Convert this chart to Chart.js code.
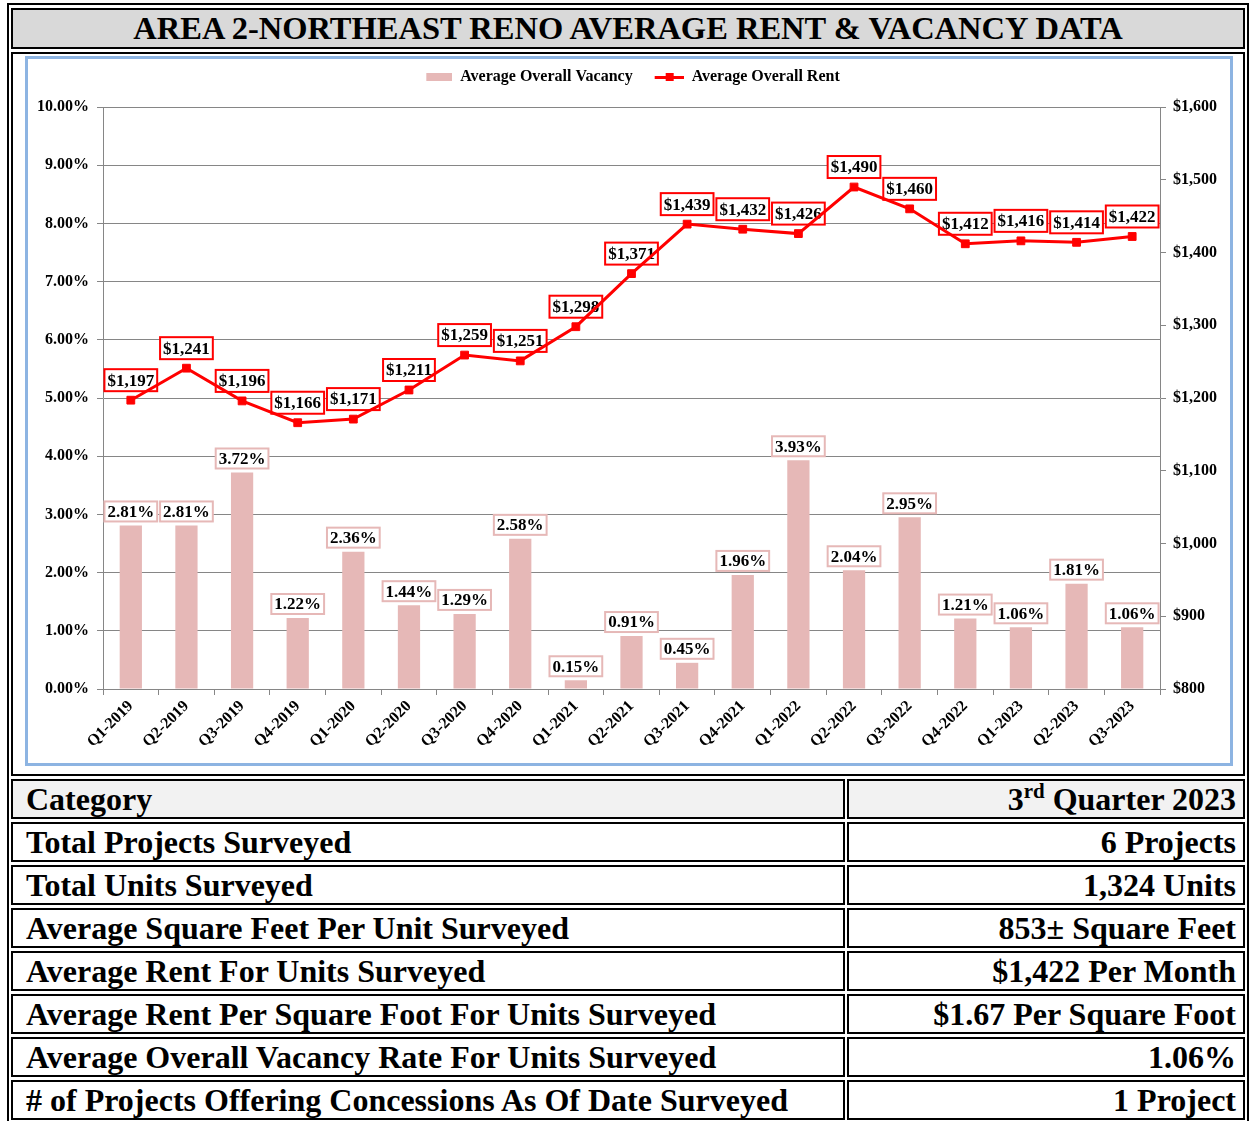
<!DOCTYPE html>
<html lang="en">

<head>
    <meta charset="UTF-8">
    <title>Area 2 - Northeast Reno Average Rent &amp; Vacancy Data</title>
    <script src="https://cdn.jsdelivr.net/npm/chart.js"></script>
    <style>
        body {
            margin: 0;
            background: #fff;
            font-family: "Liberation Serif", "Times New Roman", serif;
        }

        .frame {
            position: absolute;
            left: 7px;
            top: 3px;
            width: 1242px;
            border: 2px solid #000;
            border-spacing: 2px 3px;
            table-layout: fixed;
        }

        .frame td {
            border: 2px solid #000;
            padding: 0;
            font-weight: bold;
            color: #000;
        }

        .title {
            background: #d9d9d9;
            height: 36px;
            text-align: center;
            font-size: 32.5px;
            line-height: 37px;
        }

        .chart-cell {
            height: 720px;
            position: relative;
        }

        .chart-box {
            position: absolute;
            left: 12px;
            top: 2px;
            width: 1208px;
            height: 710px;
            box-sizing: border-box;
            border: 3px solid #8db4e2;
            background: #fff;
        }

        .row td {
            height: 36px;
            font-size: 32px;
            line-height: 36px;
            white-space: nowrap;
            overflow: hidden;
        }

        .row td.l {
            padding-left: 13px;
        }

        .row td.r {
            text-align: right;
            padding-right: 7px;
        }

        .head td {
            background: #f2f2f2;
        }

        sup {
            font-size: 21px;
            line-height: 0;
            vertical-align: 12px;
        }
    </style>
</head>

<body>
    <table class="frame">
        <colgroup>
            <col style="width: 834px">
            <col>
        </colgroup>
        <tr>
            <td colspan="2" class="title">AREA 2-NORTHEAST RENO AVERAGE RENT &amp; VACANCY DATA</td>
        </tr>
        <tr>
            <td colspan="2" class="chart-cell">
                <div class="chart-box"><canvas id="rentChart" width="1202" height="704"></canvas></div>
            </td>
        </tr>
        <tr class="row head">
            <td class="l">Category</td>
            <td class="r">3<sup>rd</sup> Quarter 2023</td>
        </tr>
        <tr class="row">
            <td class="l">Total Projects Surveyed</td>
            <td class="r">6 Projects</td>
        </tr>
        <tr class="row">
            <td class="l">Total Units Surveyed</td>
            <td class="r">1,324 Units</td>
        </tr>
        <tr class="row">
            <td class="l">Average Square Feet Per Unit Surveyed</td>
            <td class="r">853± Square Feet</td>
        </tr>
        <tr class="row">
            <td class="l">Average Rent For Units Surveyed</td>
            <td class="r">$1,422 Per Month</td>
        </tr>
        <tr class="row">
            <td class="l">Average Rent Per Square Foot For Units Surveyed</td>
            <td class="r">$1.67 Per Square Foot</td>
        </tr>
        <tr class="row">
            <td class="l">Average Overall Vacancy Rate For Units Surveyed</td>
            <td class="r">1.06%</td>
        </tr>
        <tr class="row">
            <td class="l"># of Projects Offering Concessions As Of Date Surveyed</td>
            <td class="r">1 Project</td>
        </tr>
    </table>

    <script>
        // Quarters surveyed
        const quarters = ['Q1-2019', 'Q2-2019', 'Q3-2019', 'Q4-2019', 'Q1-2020', 'Q2-2020', 'Q3-2020', 'Q4-2020',
            'Q1-2021', 'Q2-2021', 'Q3-2021', 'Q4-2021', 'Q1-2022', 'Q2-2022', 'Q3-2022', 'Q4-2022',
            'Q1-2023', 'Q2-2023', 'Q3-2023'];

        // Average overall vacancy (%)
        const vacancy = [2.81, 2.81, 3.72, 1.22, 2.36, 1.44, 1.29, 2.58, 0.15, 0.91, 0.45, 1.96,
            3.93, 2.04, 2.95, 1.21, 1.06, 1.81, 1.06];

        // Average overall rent ($)
        const rent = [1197, 1241, 1196, 1166, 1171, 1211, 1259, 1251, 1298, 1371, 1439, 1432,
            1426, 1490, 1460, 1412, 1416, 1414, 1422];

        // Axis ranges
        const vacancyTicks = { min: 0, max: 10, step: 1 };
        const rentTicks = { min: 800, max: 1600, step: 100 };

        const serif = '"Liberation Serif", "Times New Roman", serif';
        const pink = '#e6b8b7';
        const red = '#ff0000';
        const gridGray = '#868686';
        const tickFont = { family: serif, size: 16, weight: 'bold' };

        // legend markers drawn on small canvases
        function makeMarker(kind) {
            const c = document.createElement('canvas');
            c.width = 34;
            c.height = 12;
            const g = c.getContext('2d');
            if (kind === 'bar') {
                g.fillStyle = pink;
                g.fillRect(8, 2, 26, 8);
            } else {
                g.fillStyle = red;
                g.fillRect(5, 5, 29, 3);
                g.fillRect(16, 2, 8, 8);
            }
            return c;
        }

        const money = v => '$' + Number(v).toLocaleString('en-US');

        // boxed data labels, drawn before the line so the line sits on top
        function drawBox(ctx, cx, bottom, text, color, h) {
            const w = ctx.measureText(text).width + 6;
            const top = bottom - h;
            ctx.fillStyle = '#fff';
            ctx.fillRect(cx - w / 2, top, w, h);
            ctx.strokeStyle = color;
            ctx.lineWidth = 2;
            ctx.strokeRect(cx - w / 2, top, w, h);
            ctx.fillStyle = '#000';
            ctx.fillText(text, cx, top + h / 2 + 1);
        }

        const boxLabels = {
            id: 'boxLabels',
            afterDatasetDraw(chart, args) {
                if (args.index !== 0) return;
                const ctx = chart.ctx;
                ctx.save();
                ctx.font = 'bold 17px ' + serif;
                ctx.textAlign = 'center';
                ctx.textBaseline = 'middle';
                chart.getDatasetMeta(0).data.forEach((bar, i) => {
                    drawBox(ctx, bar.x, bar.y - 4, vacancy[i].toFixed(2) + '%', pink, 20);
                });
                chart.getDatasetMeta(1).data.forEach((pt, i) => {
                    drawBox(ctx, pt.x, pt.y - 9, money(rent[i]), red, 22);
                });
                ctx.restore();
            }
        };

        // keep the plot top where the original has it
        const legendHeight = {
            id: 'legendHeight',
            beforeLayout(chart) {
                const lg = chart.legend;
                if (lg && !lg._fixedHeight) {
                    const fit = lg.fit;
                    lg.fit = function () {
                        fit.call(this);
                        this.height = 55;
                    };
                    lg._fixedHeight = true;
                }
            }
        };

        const ctx = document.getElementById('rentChart').getContext('2d');
        new Chart(ctx, {
            data: {
                labels: quarters,
                datasets: [{
                    type: 'bar',
                    label: 'Average Overall Vacancy',
                    data: vacancy,
                    yAxisID: 'y',
                    backgroundColor: pink,
                    categoryPercentage: 1,
                    barPercentage: 0.4,
                    order: 2
                }, {
                    type: 'line',
                    label: 'Average Overall Rent',
                    data: rent,
                    yAxisID: 'y1',
                    borderColor: red,
                    borderWidth: 3,
                    pointStyle: 'rect',
                    pointRadius: 5.5,
                    pointBackgroundColor: red,
                    pointBorderColor: red,
                    pointBorderWidth: 1,
                    tension: 0,
                    order: 1
                }]
            },
            options: {
                responsive: false,
                animation: false,
                layout: { padding: { top: -7, left: 0, right: 0, bottom: 0 } },
                plugins: {
                    tooltip: { enabled: false },
                    legend: {
                        position: 'top',
                        labels: {
                            usePointStyle: true,
                            pointStyleWidth: 34,
                            padding: 17,
                            color: '#000',
                            font: { family: serif, size: 16, weight: 'bold' },
                            generateLabels: chart => chart.data.datasets.map((ds, i) => ({
                                text: ds.label,
                                pointStyle: makeMarker(ds.type),
                                fontColor: '#000',
                                lineWidth: 0,
                                datasetIndex: i
                            }))
                        }
                    }
                },
                scales: {
                    x: {
                        grid: { drawOnChartArea: false, tickLength: 6, color: gridGray, offset: true },
                        border: { color: gridGray },
                        ticks: {
                            minRotation: 45,
                            maxRotation: 45,
                            padding: 2,
                            color: '#000',
                            font: tickFont
                        },
                        afterFit: s => { s.height = 74; }
                    },
                    y: {
                        position: 'left',
                        min: vacancyTicks.min,
                        max: vacancyTicks.max,
                        grid: { color: gridGray, tickLength: 6 },
                        border: { color: gridGray },
                        ticks: {
                            stepSize: vacancyTicks.step,
                            padding: 8,
                            color: '#000',
                            font: tickFont,
                            callback: v => v.toFixed(2) + '%'
                        },
                        afterFit: s => { s.width = 75; }
                    },
                    y1: {
                        position: 'right',
                        min: rentTicks.min,
                        max: rentTicks.max,
                        grid: { drawOnChartArea: false, color: gridGray, tickLength: 6 },
                        border: { color: gridGray },
                        ticks: {
                            stepSize: rentTicks.step,
                            padding: 7,
                            color: '#000',
                            font: tickFont,
                            callback: v => money(v)
                        },
                        afterFit: s => { s.width = 70; }
                    }
                }
            },
            plugins: [boxLabels, legendHeight]
        });
    </script>
</body>

</html>
